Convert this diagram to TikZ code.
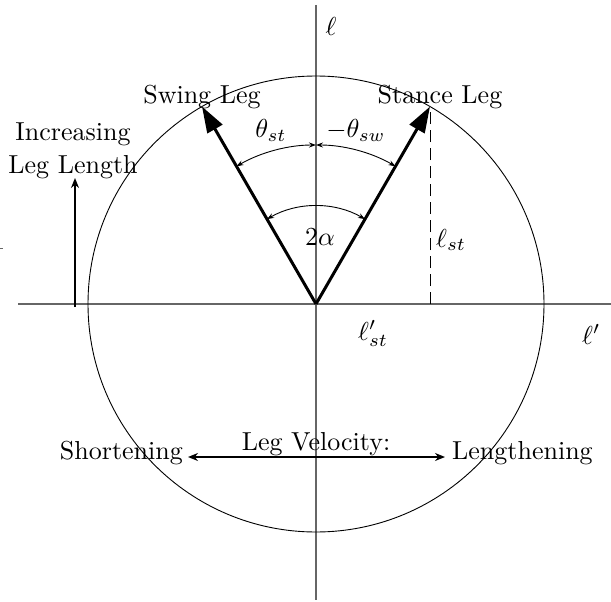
\documentclass[tikz,border=0pt]{standalone}
\usetikzlibrary{arrows.meta}
\newcommand\smtxt[1]{\scalebox{2.6}{\fontsize{10}{12}\selectfont #1}}
\begin{document}
\begin{tikzpicture}[x=1pt,y=-1pt,
  axis/.style={draw=black!60,line width=1.4pt},
  leg/.style={draw=black,line width=3pt,-{Triangle[length=26pt,width=17pt]}},
  angarr/.style={draw=black,line width=0.9pt,{Stealth[length=7pt,width=5pt]}-{Stealth[length=7pt,width=5pt]}},
  bigarr/.style={draw=black,line width=2.6pt,-{Stealth[length=10pt,width=8pt]}},
  lbl/.style={inner sep=0pt,anchor=base}]
\useasboundingbox (0,0) rectangle (611,602);
\coordinate (O) at (316,304);
\coordinate (vtop) at (316,5);
\coordinate (vbot) at (316,600);
\coordinate (hl) at (18,304);
\coordinate (hr) at (611,304);
\path (O) ++(240:228) coordinate (SW);
\path (O) ++(300:228) coordinate (ST);
\coordinate (STf) at (ST |- O);
% axes
\draw[axis] (vtop) -- (vbot);
\draw[axis] (hl) -- (hr);
\draw[draw=black!60,line width=1pt] (0,248) -- (3,248);
% circle
\draw[line width=0.9pt] (O) circle[radius=228];
% dashed
\draw[line width=1pt,dash pattern=on 12pt off 6pt] (STf) -- (ST);
% legs
\draw[leg] (O) -- (SW);
\draw[leg] (O) -- (ST);
% angle arcs
\path (O) ++(240:159) coordinate (a1s);
\path (O) ++(270:159) coordinate (a1m);
\path (O) ++(240:98) coordinate (a2s);
\draw[angarr] (a1s) arc[start angle=240,end angle=270,radius=159];
\draw[angarr] (a1m) arc[start angle=270,end angle=300,radius=159];
\draw[angarr] (a2s) arc[start angle=240,end angle=300,radius=98];
% increasing arrow
\coordinate (ib) at (75,307);
\coordinate (it) at (75,178);
\draw[bigarr] (ib) -- (it);
% velocity arrow
\coordinate (vl) at (188,457);
\coordinate (vr) at (445,457);
\draw[line width=2.6pt,{Stealth[length=10pt,width=8pt]}-{Stealth[length=10pt,width=8pt]}] (vl) -- (vr);
% labels
\node[lbl] (ell) at (331,36) {\smtxt{$\ell$}};
\node[lbl] (swl) at (202,103) {\smtxt{Swing Leg}};
\node[lbl] (stl) at (440,103) {\smtxt{Stance Leg}};
\node[lbl] (inc) at (73,140) {\smtxt{Increasing}};
\node[lbl] (ll) at (73,173) {\smtxt{Leg Length}};
\node[lbl] (thst) at (271,138) {\smtxt{$\theta_{st}$}};
\node[lbl] (thsw) at (356,138) {\smtxt{$-\theta_{sw}$}};
\node[lbl] (alp) at (320,245) {\smtxt{$2\alpha$}};
\node[lbl,anchor=base west] (lst) at (436,247) {\smtxt{$\ell_{st}$}};
\node[lbl,anchor=base west] (lpst) at (358,340) {\smtxt{$\ell'_{st}$}};
\node[lbl,anchor=base west] (lp) at (582,344) {\smtxt{$\ell'$}};
\node[lbl] (lv) at (316,450) {\smtxt{Leg Velocity:}};
\node[lbl,anchor=base east] (sh) at (183,459) {\smtxt{Shortening}};
\node[lbl,anchor=base west] (le) at (452,459) {\smtxt{Lengthening}};
\end{tikzpicture}
\end{document}
